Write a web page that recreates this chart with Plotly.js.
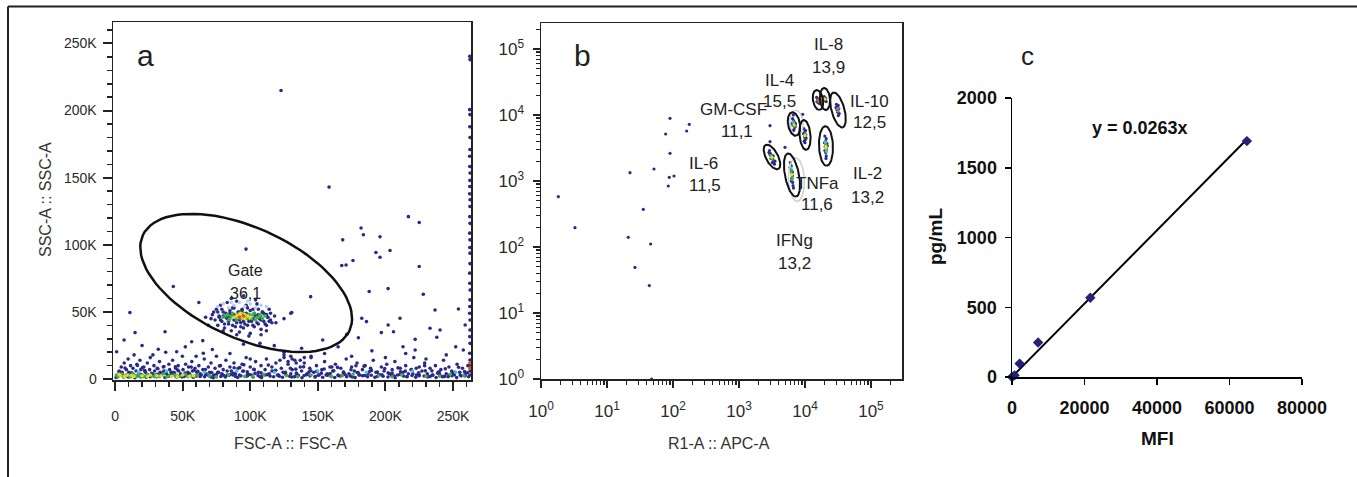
<!DOCTYPE html>
<html><head><meta charset="utf-8">
<script src="https://cdn.plot.ly/plotly-3.0.1.min.js"></script>
<style>html,body{margin:0;padding:0;background:#fff;}#chart{width:1357px;height:477px;}</style>
</head><body><div id="chart"></div>
<script>
// ---------- Panel a : FSC-A vs SSC-A (values in thousands) ----------
const aTickVals = [0, 50, 100, 150, 200, 250];
const aTickText = ['0', '50K', '100K', '150K', '200K', '250K'];

const aSparseX = [122.8,158.3,217,225,168.4,182,183.7,196,203.4,193,196,176,167.7,170.9,225,96.9,43.1,202,188,144.7,228,254,236.7,11,130.7,182.5,186,210.8,233,240.4,259,202,206,197,171.4,180,153.6,222,238,257.6,222,213,37,14.8,6.7,56.7,64.9,32,45.6,1.2,65.3,107.2,117.8];
const aSparseY = [215,143,121,116.6,103.7,112.5,107.5,106,95.8,94.3,90.8,88.3,84.6,85,83.8,96.8,68.9,67.4,65.2,61.4,63.2,52.2,51.5,49.5,49.5,45.3,42.8,45.3,37.8,36.6,40.3,40.3,35.3,34.6,33.3,30.8,29.1,29.6,31.1,21.6,21.6,24.1,35.3,34.6,29.1,27.8,28.6,22.2,20.4,20.4,19.2,26.6,24.9];

const aLowX = [20,28,52,60,72,85,95,100,125,130,138,145,155,165,175,190,200,215,230,245,252,122,125,128,131,134,137,140];
const aLowY = [25,18,24,17,22,19,26,15,20,17,23,16,19,24,17,21,16,19,15,18,24,14,16,13,15,12,14,16];

const aBandX = [2.3,3.1,4.6,5.2,6.8,7.1,8.4,9.7,10.2,11.5,12.9,13.3,14.1,15.6,16.2,17.8,18.4,19.1,20.7,21.3,22.5,23.9,24.2,25.6,26.1,27.4,28.8,29.3,30.6,31.2,32.9,33.4,34.1,35.7,36.3,37.5,38.2,39.8,40.4,41.1,42.6,43.3,44.9,45.2,46.7,47.1,48.5,49.8,50.3,51.6,52.2,53.9,54.4,55.1,56.8,57.3,58.6,59.2,60.5,
  62,63,65,66,67,69,70,71,73,74,75,76,78,79,80,82,83,85,86,88,89,91,92,94,95,97,98,100,101,103,104,106,108,109,111,112,114,116,118,119,121,123,125,126,128,130,131,133,135,137,138,140,142,144,145,147,149,
  151,153,155,157,159,161,163,165,167,169,171,173,175,177,179,181,183,185,187,189,191,193,195,197,199,201,203,205,207,209,211,213,215,217,219,221,223,225,227,229,231,233,235,237,239,241,243,245,247,249,251,253,255,257,259,261];
const aBandY = [3,6,9,4,12,2,7,15,5,10,3,8,18,6,11,4,14,7,2,9,5,12,3,7,16,4,10,6,2,8,13,5,3,9,6,20,4,11,7,3,14,5,8,2,10,6,4,17,7,3,11,5,9,4,13,6,2,8,5,
  10,4,7,15,3,9,5,12,3,8,17,5,10,4,7,14,3,9,6,12,4,8,3,11,6,16,4,9,3,7,13,5,10,3,7,15,4,9,6,12,3,8,18,5,11,4,7,14,3,9,6,12,4,8,17,5,10,
  3,7,13,4,9,6,11,3,8,5,15,4,9,6,12,3,7,10,4,8,14,5,3,9,6,11,4,7,13,3,8,5,10,4,7,16,3,9,6,12,4,8,3,10,5,7,14,4,9,6,3,11,5,8,4,10];

const aBand2X = [1.5,5.2,9.8,13.1,17.9,22.4,26.0,31.3,35.8,40.2,44.1,49.6,53.0,58.4,62.9,67.3,71.0,76.6,80.2,85.7,89.1,94.5,98.0,103.6,107.2,112.8,116.1,121.5,125.0,130.7,134.3,139.9,143.4,148.1,152.6,157.2,161.8,166.4,170.0,175.5,179.1,184.7,188.3,193.9,197.4,202.0,206.6,211.2,215.8,220.3,224.9,229.5,233.1,238.7,242.2,247.8,251.4,256.0,260.6];
const aBand2Y = [2,5,1.5,4,2.5,6,1.8,3.5,5.5,2.2,4.5,1.6,3,6.5,2,4,1.5,5,2.8,3.6,1.9,5.8,2.4,4.2,1.7,3.3,6,2.1,4.8,1.5,3.8,2.6,5.2,1.8,4.4,2.9,6.2,2.3,3.5,1.6,4.9,2.7,5.6,1.9,3.1,4.6,2.2,5.4,1.7,3.9,2.5,6.1,2,4.3,1.8,3.4,5.1,2.4,4.7];

const aBand3X = [0.8,3.9,6.5,8.9,11.8,14.6,16.9,19.7,23.1,25.3,28.1,30.9,33.8,36.9,39.2,42.0,45.8,48.2,51.1,54.7,57.9,60.1,63.8,66.2,69.4,72.7,75.0,78.3,81.6,84.4,87.2,90.8,93.1,96.6,99.3,102.1,105.8,108.4,111.0,114.7,117.3,120.2,123.9,126.5,129.1,132.8,135.6,138.3,141.7,144.2,147.9,150.3,153.6,156.2,159.8,162.5,165.1,168.7,171.3,174.0,177.6,180.4,183.1,186.8,189.5,192.2,195.7,198.3,201.9,204.6,207.2,210.8,213.4,216.1,219.7,222.4,225.0,228.6,231.3,234.9,237.5,240.2,243.8,246.4,249.1,252.7,255.3,258.9,261.5];
const aBand3Y = [1.2,2.8,1.6,3.3,2.1,1.0,2.6,3.1,1.4,2.3,3.4,1.8,2.9,1.1,2.4,3.2,1.5,2.7,1.9,3.5,1.3,2.2,3.0,1.7,2.5,1.0,3.3,2.0,1.6,2.8,3.1,1.2,2.4,1.9,3.4,1.5,2.6,1.1,3.0,2.2,1.7,2.9,1.3,3.2,2.1,1.8,2.7,1.0,3.3,2.4,1.6,2.9,1.4,3.1,2.0,1.2,2.6,3.4,1.8,2.3,1.1,3.0,2.5,1.7,2.8,1.3,3.2,2.1,1.5,2.7,1.0,3.4,2.2,1.9,2.6,1.4,3.1,2.3,1.6,2.9,1.2,3.3,2.0,1.8,2.5,1.1,3.0,2.4,1.7];

const aBand4X = [2.9,7.4,12.2,16.5,21.8,27.0,31.7,36.2,41.5,46.3,51.9,56.4,61.2,66.8,71.5,77.2,82.9,87.6,92.3,97.8,102.6,108.0,113.4,118.9,124.3,129.7,134.1,139.5,144.8,149.2,154.7,159.1,164.6,169.0,174.5,179.8,184.2,189.7,194.1,199.5,204.9,209.3,214.7,219.2,224.6,229.0,234.4,239.8,244.3,249.7,254.1,258.5,20.3,44.6,88.1,133.7,178.2,222.8,160.4,95.3];
const aBand4Y = [5.5,8.2,4.6,10.1,6.3,4.2,7.7,9.4,5.1,6.8,4.4,8.9,5.8,7.1,4.9,9.8,6.0,4.3,8.5,5.4,7.3,4.7,10.4,6.6,5.0,8.0,4.5,9.1,6.2,5.7,7.5,4.1,8.7,5.3,6.9,4.8,9.6,6.4,5.2,7.9,4.4,8.3,5.9,7.0,4.6,10.0,6.1,5.5,7.6,4.2,8.8,5.6,8.6,9.2,8.4,7.4,9.9,8.1,9.0,10.6];

const aEdgeX = [262.4,262.6,262.3,262.5,262.4,262.6,262.5,262.3,262.4,262.6,262.5,262.4,262.3,262.6,262.5,262.4,262.6,262.3,262.5,262.4,262.6,262.5,262.3,262.4,262.6,262.5,262.4,262.3,262.6,262.5,262.4,262.6,262.3,262.5,262.4,262.6,262.5];
const aEdgeY = [240.5,238,200.7,197,188,180,171,166,158.4,153.5,148,143.5,138,133.6,128.6,121,116,108.7,103.7,98,93.8,86,78.9,71.4,66.4,59,54,49,44,36.6,31.6,26.6,19.2,14.2,10.4,6,3];

const aCellX = [72,74,75,76,77,78,79,80,81,82,83,84,85,86,87,88,89,90,91,92,93,94,95,96,97,98,99,100,101,102,103,104,105,106,107,108,109,110,111,112,113,114,115,116,118,71,73,86,95,104,99,108,90,80,112,119,84,92,97,102,106,88,67,69,62,125,130,
  78,81,84,87,90,93,96,99,102,105,108,111,114,76,79,82,85,88,91,94,97,100,103,106,109,112,115,77,83,89,95,101,107,113,80,86,92,98,104,110];
const aCellY = [48,44,52,40,47,55,43,50,38,46,57,41,49,36,53,44,39,58,47,35,42,51,38,45,55,40,48,34,43,52,39,47,56,41,45,37,50,43,48,40,46,52,44,42,47,45,50,60,62,59,32,33,33,36,36,42,46,44,49,45,48,48,46,40,57,45,49,
  44,41,43,40,42,39,41,43,40,42,44,41,43,50,52,49,51,53,50,52,54,51,49,52,50,48,49,46,45,44,43,44,45,46,47,48,50,53,47,49];

const aGreenX = [80,83,85,87,89,91,93,95,97,99,101,103,105,107,109,111,86,94,100,106,82,88,92,96,102,108,84,90,98,104,
  1,3,5,8,10,13,15,18,21,24,27,30,33,36,40,44,48,52,56,61,70,84,96,110,127,145,160,176,195,212,230,248,258,
  2,6,11,16,19,23,29,32,38,46,54,59,75,102,135,168,205,240];
const aGreenY = [46,48,45,49,46,48,45,49,46,48,45,49,46,48,45,47,47,47,47,46,47,46,49,47,48,47,44,44,45,44,
  3,2.5,3.5,2,3,4,2.5,3,2,3.5,2.5,3,2,4,2.5,3,2,3.5,2.5,3,2.5,3,2,3.5,2.5,3,2,3.5,2.5,3,2,3.5,2.5,
  1.8,2.2,1.6,2,1.4,2.3,1.7,2.1,1.5,2.2,1.8,2,1.6,2.1,1.8,2.4,1.7,2.2];
const aYellowX = [90,92,94,96,98,93,88,100,96, 4,9,14,20,26,34,42,50,58,7,12,24,31,46,55,3];
const aYellowY = [47,48,46,48,47,49,46,46,45, 2.5,3,2,2.5,3,2.5,2,3,2.5,1.8,2.6,1.9,2.4,1.7,2.1,3.5];
const aCyanX = [17,38,66,90,118,150,186,220,252];
const aCyanY = [5,6,5,6,5,6,5,6,5];
const aRedX = [95,92,262.5,262.5];
const aRedY = [47,46,8,12];
const aPaleX = [76,80,84,88,92,96,100,104,108,112,86,98];
const aPaleY = [54,56,53,55,57,54,56,53,55,54,57,58];

// gate: centre x, centre y, semi-major, semi-minor, angle (deg)
const aGate = [97, 71.6, 84.3, 41, -25];

// ---------- Panel b : R1-A vs APC-A (log) ----------
const bTickVals = [1, 10, 100, 1000, 10000, 100000];
const bTickText = ['10<sup>0</sup>','10<sup>1</sup>','10<sup>2</sup>','10<sup>3</sup>','10<sup>4</sup>','10<sup>5</sup>'];

const bNavyX = [1.83,3.27,22.3,21.0,26.5,43.8,35.5,45.9,51.5,77.5,90.1,90.1,87.9,84.9,103.5,161,176.6,2950,2950,4980,6650,9220,47.5,
  2900,3000,3100,3250,3350,3450,2850,3300,3050,3500,2950,3200,
  6000,6200,6100,6400,6300,6500,6600,6200,6450,5900,6700,6350,
  6500,6700,6900,6600,7000,6800,7100,6400,7200,6700,
  9600,10200,9800,10300,9900,10100,9700,10400,9500,10000,
  20000,21000,20500,21500,20200,21200,20600,21000,20000,21800,19800,20800,
  15000,15500,16200,15800,16500,15200,
  19500,20500,20000,21000,19800,
  30000,31000,32500,31500,33000,30500,32000,29500,31800];
const bNavyY = [578,196,1336,140,49,26,372,111,1520,5150,8900,2630,1138,840,1190,5720,7230,6890,3940,3240,10000,10240,1.0,
  2900,2600,2450,2150,1950,1800,2700,2400,2200,2000,2500,1900,
  1900,1700,1500,1350,1100,950,850,1000,1200,1600,780,1400,
  8800,8200,7800,7000,6500,6000,6800,7500,7400,5800,
  6200,5800,5400,5000,4600,4200,4000,4500,5200,3800,
  4800,4400,4000,3700,3300,3000,2700,2400,2900,3400,3800,2200,
  18500,17500,16500,15500,15000,16000,
  19000,18000,16500,16000,17800,
  14500,13500,12500,11000,10500,12000,9800,13000,14000];
const bGreenX = [3100,3200,3150,3050, 6300,6400,6250,6350, 6800,6900,6700, 10000,9900,10100, 20700,20900,20500,21000, 15700,16000, 20200];
const bGreenY = [2350,2250,2150,2450, 1300,1150,1450,1050, 7200,6800,7600, 5000,4800,5200, 3500,3200,3700,3000, 17000,16200, 17200];
const bCyanX = [31500,32000,20400,21100,6150,6600];
const bCyanY = [12500,11500,3900,2800,1600,7900];
const bYellowX = [3150,6300,6850,10000,20800,20600,20000];
const bYellowY = [2300,1250,7100,4900,3350,3150,17600];
const bRedX = [15800,17800,31600];
const bRedY = [16500,16500,12000];

// gates in log10 units: centre x, centre y, semi-major, semi-minor, angle (deg)
const bGates = [
  [3.50, 3.364, 0.206, 0.091, -62],
  [3.803, 3.09, 0.333, 0.106, -79],
  [3.833, 3.864, 0.18, 0.09, -80],
  [4.0, 3.697, 0.227, 0.083, -85],
  [4.318, 3.53, 0.30, 0.106, -88],
  [4.197, 4.227, 0.152, 0.076, -80],
  [4.303, 4.242, 0.167, 0.076, -85],
  [4.5, 4.076, 0.273, 0.098, -75]
];
const bFaintGates = [
  [3.87, 3.88, 0.19, 0.10, -86],
  [3.87, 3.02, 0.33, 0.12, -88]
];
const bLabels = [
  ['GM-CSF', 733, 109], ['11,1', 737, 132],
  ['IL-4', 779, 80], ['15,5', 779, 102],
  ['IL-8', 828, 45], ['13,9', 828, 67],
  ['IL-10', 870, 102], ['12,5', 870, 123],
  ['IL-6', 703, 163], ['11,5', 705, 185],
  ['TNFa', 817, 183], ['11,6', 817, 204],
  ['IL-2', 867, 174], ['13,2', 867, 197],
  ['IFNg', 794, 240], ['13,2', 794, 263]
];

// ---------- Panel c : standard curve ----------
const cMFI = [0, 700, 2100, 7200, 21600, 64800];
const cPg = [0, 12, 96, 247, 568, 1691];
const cSlope = 0.0263;
const cFitX = [0, 64800];
const cXTicks = [0, 20000, 40000, 60000, 80000];
const cXText = ['0', '20000', '40000', '60000', '80000'];
const cYTicks = [0, 500, 1000, 1500, 2000];

// ---------- helpers ----------
const W = 1357, H = 477;
const FONT = 'Arial, "Liberation Sans", sans-serif';
function P(px, py) { return {x: px / W, y: 1 - py / H, xref: 'paper', yref: 'paper'}; }
function ellipse(g) {
  const [cx, cy, a, b, deg] = g, t = deg * Math.PI / 180, xs = [], ys = [];
  for (let i = 0; i <= 90; i++) {
    const u = i / 90 * 2 * Math.PI;
    xs.push(cx + a * Math.cos(u) * Math.cos(t) - b * Math.sin(u) * Math.sin(t));
    ys.push(cy + a * Math.cos(u) * Math.sin(t) + b * Math.sin(u) * Math.cos(t));
  }
  return [xs, ys];
}
const NAVY = '#2b2a88', GREEN = '#3cae4a', YEL = '#e6dc28', CYAN = '#46c3dc', RED = '#e8501e', PALE = '#b9cdf0';
function dots(x, y, color, xa, ya, size) {
  return {x, y, xaxis: xa, yaxis: ya, type: 'scatter', mode: 'markers', hoverinfo: 'skip',
    marker: {color, size: size || 3.6, line: {width: 0}}};
}

const traces = [];
// panel a
traces.push(dots(aBandX.concat(aBand2X, aBand3X, aBand4X, aLowX, aSparseX, aEdgeX, aCellX),
                 aBandY.concat(aBand2Y, aBand3Y, aBand4Y, aLowY, aSparseY, aEdgeY, aCellY), NAVY, 'x', 'y'));
traces.push(dots(aPaleX, aPaleY, PALE, 'x', 'y'));
traces.push(dots(aCyanX, aCyanY, CYAN, 'x', 'y'));
traces.push(dots(aGreenX, aGreenY, GREEN, 'x', 'y'));
traces.push(dots(aYellowX, aYellowY, YEL, 'x', 'y'));
traces.push(dots(aRedX, aRedY, RED, 'x', 'y'));
const ga = ellipse(aGate);
traces.push({x: ga[0], y: ga[1], xaxis: 'x', yaxis: 'y', type: 'scatter', mode: 'lines', hoverinfo: 'skip', line: {color: '#111', width: 2.5}});
// panel b
traces.push(dots(bNavyX, bNavyY, NAVY, 'x2', 'y2', 3.2));
traces.push(dots(bGreenX, bGreenY, GREEN, 'x2', 'y2', 3.2));
traces.push(dots(bCyanX, bCyanY, CYAN, 'x2', 'y2', 3.2));
traces.push(dots(bYellowX, bYellowY, YEL, 'x2', 'y2', 3.2));
traces.push(dots(bRedX, bRedY, RED, 'x2', 'y2', 3.2));
bFaintGates.forEach(g => { const e = ellipse(g);
  traces.push({x: e[0].map(v => Math.pow(10, v)), y: e[1].map(v => Math.pow(10, v)), xaxis: 'x2', yaxis: 'y2', type: 'scatter', mode: 'lines', hoverinfo: 'skip', line: {color: '#cfcfcf', width: 1.5}}); });
bGates.forEach(g => { const e = ellipse(g);
  traces.push({x: e[0].map(v => Math.pow(10, v)), y: e[1].map(v => Math.pow(10, v)), xaxis: 'x2', yaxis: 'y2', type: 'scatter', mode: 'lines', hoverinfo: 'skip', line: {color: '#111', width: 2}}); });
// panel c
traces.push({x: cFitX, y: cFitX.map(v => v * cSlope), xaxis: 'x3', yaxis: 'y3', type: 'scatter', mode: 'lines', hoverinfo: 'skip', line: {color: '#000', width: 2}});
traces.push({x: cMFI, y: cPg, xaxis: 'x3', yaxis: 'y3', type: 'scatter', mode: 'markers', cliponaxis: false, hoverinfo: 'skip',
  marker: {symbol: 'diamond', size: 8, color: '#25217a'}});

const bMinor = [];
for (let k = 0; k <= 5; k++) for (let m = 2; m <= 9; m++) bMinor.push(m * Math.pow(10, k));

const frameAxis = {showline: true, mirror: true, linecolor: '#222', linewidth: 1.5, ticks: 'outside', tickcolor: '#222',
  tickwidth: 2, showgrid: false, zeroline: false, fixedrange: true, tickfont: {family: FONT, size: 14, color: '#2a2a2a'}};

const layout = {
  width: W, height: H, margin: {l: 0, r: 0, t: 0, b: 0}, showlegend: false,
  paper_bgcolor: '#fff', plot_bgcolor: 'rgba(0,0,0,0)',
  xaxis: Object.assign({}, frameAxis, {domain: [113 / W, 471 / W], range: [-1.5, 263.3], anchor: 'y',
    tickmode: 'array', tickvals: aTickVals, ticktext: aTickText, ticklen: 9, ticklabelstandoff: 14,
    minor: {tickmode: 'linear', tick0: 0, dtick: 10, ticks: 'outside', ticklen: 5, tickwidth: 1.5, tickcolor: '#222', showgrid: false}}),
  yaxis: Object.assign({}, frameAxis, {domain: [1 - 380 / H, 1 - 22 / H], range: [-0.7, 266], anchor: 'x',
    tickmode: 'array', tickvals: aTickVals, ticktext: aTickText, ticklen: 9, ticklabelstandoff: 3,
    minor: {tickmode: 'linear', tick0: 0, dtick: 10, ticks: 'outside', ticklen: 5, tickwidth: 1.5, tickcolor: '#222', showgrid: false}}),
  xaxis2: Object.assign({}, frameAxis, {type: 'log', domain: [541 / W, 902 / W], range: [0, 5.47], anchor: 'y2',
    tickmode: 'array', tickvals: bTickVals, ticktext: bTickText, ticklen: 7, ticklabelstandoff: 9,
    tickfont: {family: FONT, size: 17, color: '#2a2a2a'},
    minor: {tickmode: 'array', tickvals: bMinor, ticks: 'outside', ticklen: 4, tickwidth: 1.2, tickcolor: '#222', showgrid: false}}),
  yaxis2: Object.assign({}, frameAxis, {type: 'log', domain: [1 - 379 / H, 1 - 23 / H], range: [0, 5.394], anchor: 'x2',
    tickmode: 'array', tickvals: bTickVals, ticktext: bTickText, ticklen: 7, ticklabelstandoff: 5,
    tickfont: {family: FONT, size: 17, color: '#2a2a2a'},
    minor: {tickmode: 'array', tickvals: bMinor, ticks: 'outside', ticklen: 4, tickwidth: 1.2, tickcolor: '#222', showgrid: false}}),
  xaxis3: {domain: [1012 / W, 1302 / W], range: [0, 80000], anchor: 'y3', showline: true, linecolor: '#000', linewidth: 1.5,
    ticks: 'outside', ticklen: 6, tickwidth: 1.5, tickcolor: '#000', tickmode: 'array', tickvals: cXTicks, ticktext: cXText,
    tickfont: {family: FONT, size: 18, color: '#111', weight: 'bold'}, ticklabelstandoff: 8,
    showgrid: false, zeroline: false, fixedrange: true},
  yaxis3: {domain: [1 - 377 / H, 1 - 98 / H], range: [0, 2000], anchor: 'x3', showline: true, linecolor: '#000', linewidth: 1.5,
    ticks: 'outside', ticklen: 6, tickwidth: 1.5, tickcolor: '#000', tickmode: 'array', tickvals: cYTicks,
    tickfont: {family: FONT, size: 18, color: '#111', weight: 'bold'}, ticklabelstandoff: 4,
    showgrid: false, zeroline: false, fixedrange: true},
  shapes: [
    {type: 'line', xref: 'paper', yref: 'paper', x0: 8 / W, x1: 1, y0: 1 - 6.5 / H, y1: 1 - 6.5 / H, line: {color: '#222', width: 2}},
    {type: 'line', xref: 'paper', yref: 'paper', x0: 8 / W, x1: 8 / W, y0: 1 - 6.5 / H, y1: 0, line: {color: '#222', width: 2}}
  ],
  annotations: []
};

function ann(text, px, py, opts) {
  layout.annotations.push(Object.assign(P(px, py), {text, showarrow: false, xanchor: 'center', yanchor: 'middle',
    font: Object.assign({family: FONT, size: 16, color: '#222'}, (opts && opts.font) || {})}, opts && opts.extra || {}));
}
ann('a', 145, 55, {font: {size: 30}});
ann('Gate', 245, 270, {font: {size: 16}});
ann('36,1', 245, 293, {font: {size: 16}});
ann('SSC-A :: SSC-A', 45, 200, {font: {size: 16, color: '#333'}, extra: {textangle: -90}});
ann('FSC-A :: FSC-A', 290, 443, {font: {size: 16, color: '#333'}});
ann('b', 582, 55, {font: {size: 30}});
bLabels.forEach(l => ann(l[0], l[1], l[2], {font: {size: 17}}));
ann('R1-A :: APC-A', 719, 443, {font: {size: 16, color: '#333'}});
ann('c', 1027, 56, {font: {size: 26}});
ann('y = 0.0263x', 1140, 128, {font: {size: 18, weight: 'bold', color: '#111'}});
ann('pg/mL', 935, 237, {font: {size: 19, weight: 'bold', color: '#111'}, extra: {textangle: -90}});
ann('MFI', 1157, 438, {font: {size: 19, weight: 'bold', color: '#111'}});

Plotly.newPlot('chart', traces, layout, {staticPlot: true, displayModeBar: false});
</script></body></html>
